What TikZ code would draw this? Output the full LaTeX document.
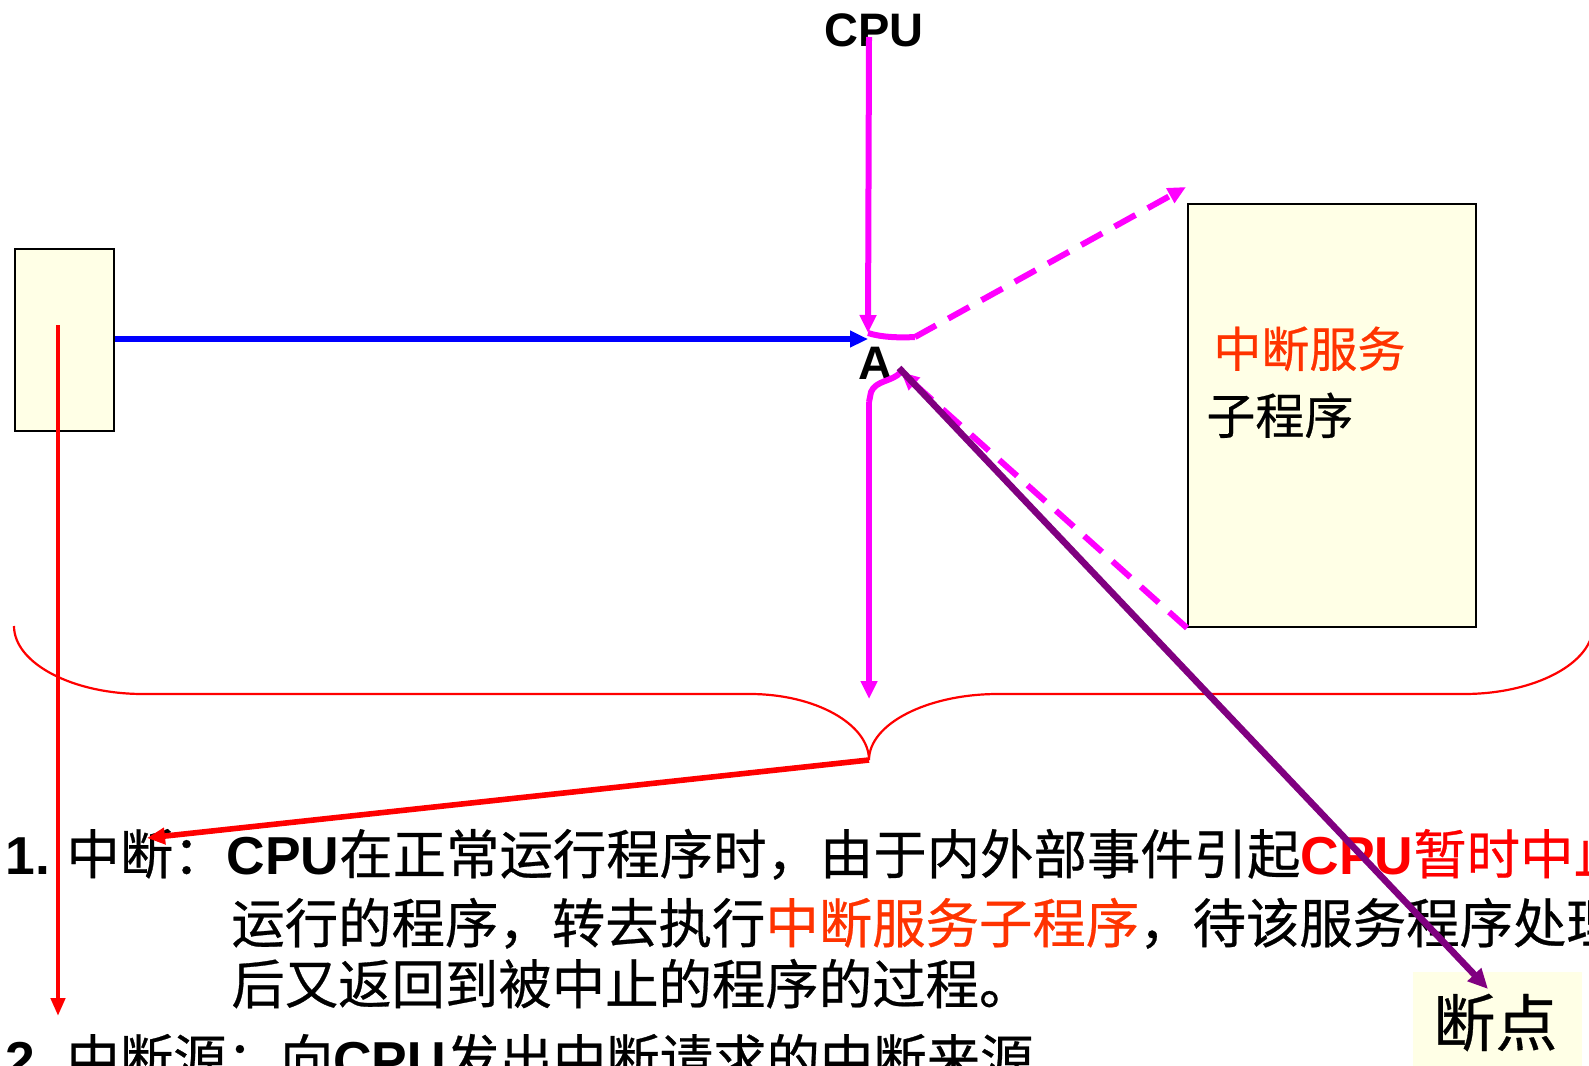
\documentclass[tikz,border=0pt]{standalone}
\usepackage{fontspec}
\setmainfont{Liberation Sans}
\newfontfamily\cjkfont[FakeBold=0.5]{Noto Sans CJK SC}
\usetikzlibrary{arrows.meta}
\definecolor{boxfill}{RGB}{255,255,230}
\definecolor{pinkc}{RGB}{255,0,255}
\definecolor{purplec}{RGB}{128,0,128}
\definecolor{orangered}{RGB}{255,51,0}
\definecolor{bluec}{RGB}{0,0,255}
\definecolor{redc}{RGB}{255,0,0}
\tikzset{
  yellowbox/.style={draw=black, line width=1pt, fill=boxfill, inner sep=0pt, anchor=north west},
  pinkline/.style={draw=pinkc, line width=3pt},
  pinkarrow/.style={pinkline, -{Triangle[length=9pt,width=8pt]}},
  pinkdash/.style={pinkarrow, dash pattern=on 12pt off 7pt},
  bluearrow/.style={draw=bluec, line width=2.6pt, -{Triangle[length=9pt,width=8pt]}},
  redarrow/.style={draw=redc, line width=2.2pt, -{Triangle[length=9pt,width=7pt]}},
  redthick/.style={draw=redc, line width=2.8pt, -{Triangle[length=9pt,width=8pt]}},
  purplearrow/.style={draw=purplec, line width=3.3pt, -{Triangle[length=10pt,width=9pt]}},
  bracestyle/.style={draw=redc, line width=1.1pt},
  txt/.style={inner sep=0pt, anchor=base west, font=\fontsize{26.7pt}{30pt}\selectfont},
  lbl/.style={inner sep=0pt, anchor=base, font=\fontsize{23.5pt}{28pt}\selectfont\bfseries},
}
\begin{document}
\begin{tikzpicture}[x=0.5pt,y=-0.5pt]
\useasboundingbox (0,0) rectangle (1589,1065);
\clip (0,0) rectangle (1589,1065);

% boxes
\node[yellowbox, minimum width=49.5pt, minimum height=91pt] (lbox) at (14,248) {};
\node[yellowbox, minimum width=144pt, minimum height=211.5pt] (rbox) at (1187,203) {};
\node[fill=boxfill, inner sep=0pt, anchor=north west, minimum width=84.5pt, minimum height=60pt] (bpbox) at (1413,972) {};

% labels
\node[lbl] (cpu) at (874,47) {CPU};
\node[lbl] (A) at (875,379) {A};
\node[inner sep=0pt, anchor=base west, font=\fontsize{24pt}{28pt}\selectfont\cjkfont, text=orangered] (isr1) at (1213,367) {中断服务};
\node[inner sep=0pt, anchor=base west, font=\fontsize{24.5pt}{28pt}\selectfont\cjkfont] (isr2) at (1206,434) {子程序};
\node[inner sep=0pt, anchor=base west, font=\fontsize{31pt}{34pt}\selectfont\cjkfont] (bp) at (1433,1046) {断点};

% text block
\node[txt] (n1) at (5,874) {\bfseries 1.};
\node[txt] (l1) at (66,874) {{\cjkfont 中断：}{\bfseries CPU}{\cjkfont 在正常运行程序时，由于内外部事件引起}\textcolor{redc}{{\bfseries CPU}{\cjkfont 暂时中止}}};
\node[txt] (l2) at (231,943) {\cjkfont 运行的程序，转去执行\textcolor{orangered}{中断服务子程序}，待该服务程序处理完};
\node[txt] (l3) at (231,1004) {\cjkfont 后又返回到被中止的程序的过程。};
\node[txt] (n2) at (5,1079) {\bfseries 2.};
\node[txt] (l4) at (66,1079) {{\cjkfont 中断源：向}{\bfseries CPU}{\cjkfont 发出中断请求的中断来源}};

% coordinates
\coordinate (cputop) at (869,37);
\coordinate (Ain) at (868,333);
\coordinate (Abl) at (868,339);
\coordinate (Ar1) at (915,337);
\coordinate (rtop) at (1186,187);
\coordinate (Aret) at (901,372);
\coordinate (Adown) at (869,402);
\coordinate (downtip) at (869,699);
\coordinate (btip) at (869,760);
\coordinate (zd) at (147,838);
\coordinate (redtop) at (58,325);
\coordinate (redtip) at (58,1016);
\coordinate (pstart) at (899,368);
\coordinate (pend) at (1488,989);

% main flow
\draw[bluearrow] (lbox.east |- Abl) -- (Abl);
\draw[pinkarrow] (cputop) -- (Ain);
\draw[pinkline] (Ain) .. controls (880,337) and (898,338) .. (Ar1);
\draw[pinkdash] (Ar1) -- (rtop);
\draw[pinkdash] (rbox.south west) -- (Aret);
\draw[pinkline] (Aret) .. controls (892,382) and (876,380) .. (871,392) -- (Adown);
\draw[pinkarrow] (Adown) -- (downtip);

% brace
\draw[bracestyle] (14,626) .. controls (14,663) and (72,694) .. (143,694) -- (750,694)
  .. controls (815,694) and (869,724) .. (btip)
  .. controls (869,724) and (927,694) .. (998,694) -- (1464,694)
  .. controls (1535,694) and (1593,663) .. (1593,626);

% red arrows
\draw[redthick] (btip) -- (zd);
\draw[redarrow] (redtop) -- (redtip);

% purple
\draw[purplearrow] (pstart) -- (pend);
\end{tikzpicture}
\end{document}
